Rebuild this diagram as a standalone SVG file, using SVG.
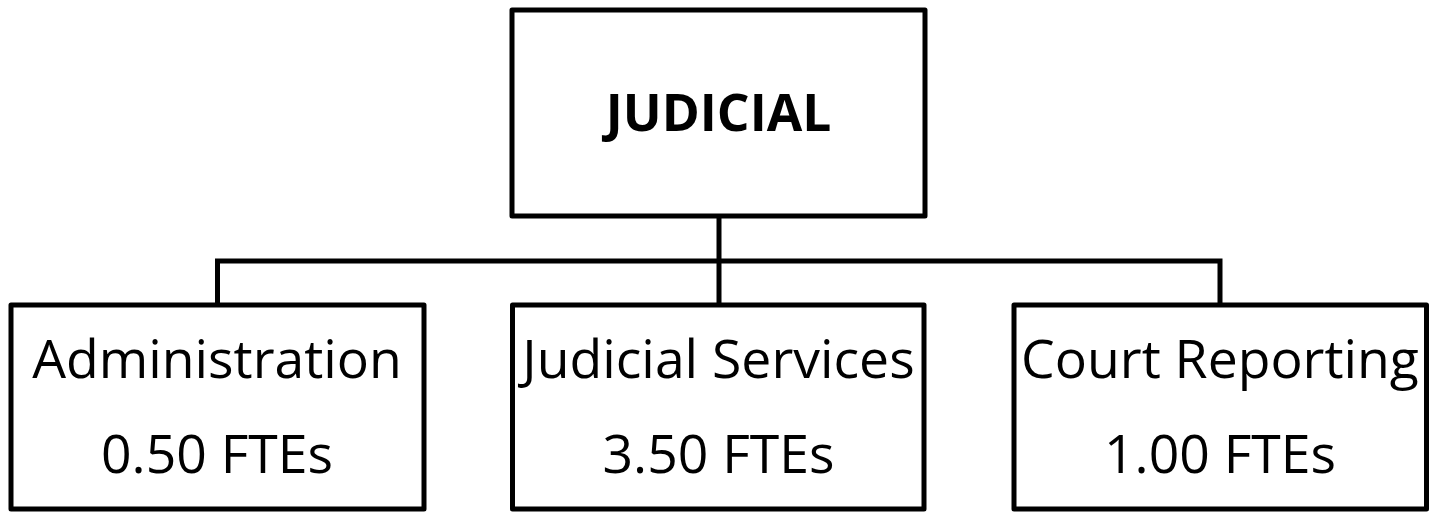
<svg xmlns="http://www.w3.org/2000/svg" width="1429" height="512" viewBox="0 0 1429 512">
  <style>
    .box { fill: #ffffff; stroke: #000000; stroke-width: 5; stroke-linejoin: round; }
    .wire { fill: none; stroke: #000000; stroke-width: 5; stroke-linejoin: miter; }
    .label { font-family: "Open Sans", Lato, sans-serif; font-size: 53.5px; fill: #000000; text-anchor: middle; font-variant-ligatures: none; }
    .title { font-weight: bold; font-size: 51.5px; }
  </style>
  <rect width="1429" height="512" fill="#ffffff"/>

  <!-- connectors -->
  <g id="connectors">
    <path class="wire" d="M719 216 V305"/>
    <path class="wire" d="M217.5 305 V261 H1220 V305"/>
  </g>

  <!-- top node -->
  <g id="node-judicial">
    <rect class="box" x="512" y="10" width="413" height="206"/>
    <text class="label title" x="718.5" y="130.5">JUDICIAL</text>
  </g>

  <!-- child nodes -->
  <g id="node-administration">
    <rect class="box" x="11" y="305" width="413" height="204"/>
    <text class="label" x="217" y="378">Administration</text>
    <text class="label" x="217" y="473">0.50 FTEs</text>
  </g>

  <g id="node-judicial-services">
    <rect class="box" x="512.5" y="305" width="411.5" height="204"/>
    <text class="label" x="718.5" y="378">Judicial Services</text>
    <text class="label" x="718.5" y="473">3.50 FTEs</text>
  </g>

  <g id="node-court-reporting">
    <rect class="box" x="1014" y="305" width="412.5" height="204"/>
    <text class="label" x="1220" y="378">Court Reporting</text>
    <text class="label" x="1220" y="473">1.00 FTEs</text>
  </g>
</svg>
